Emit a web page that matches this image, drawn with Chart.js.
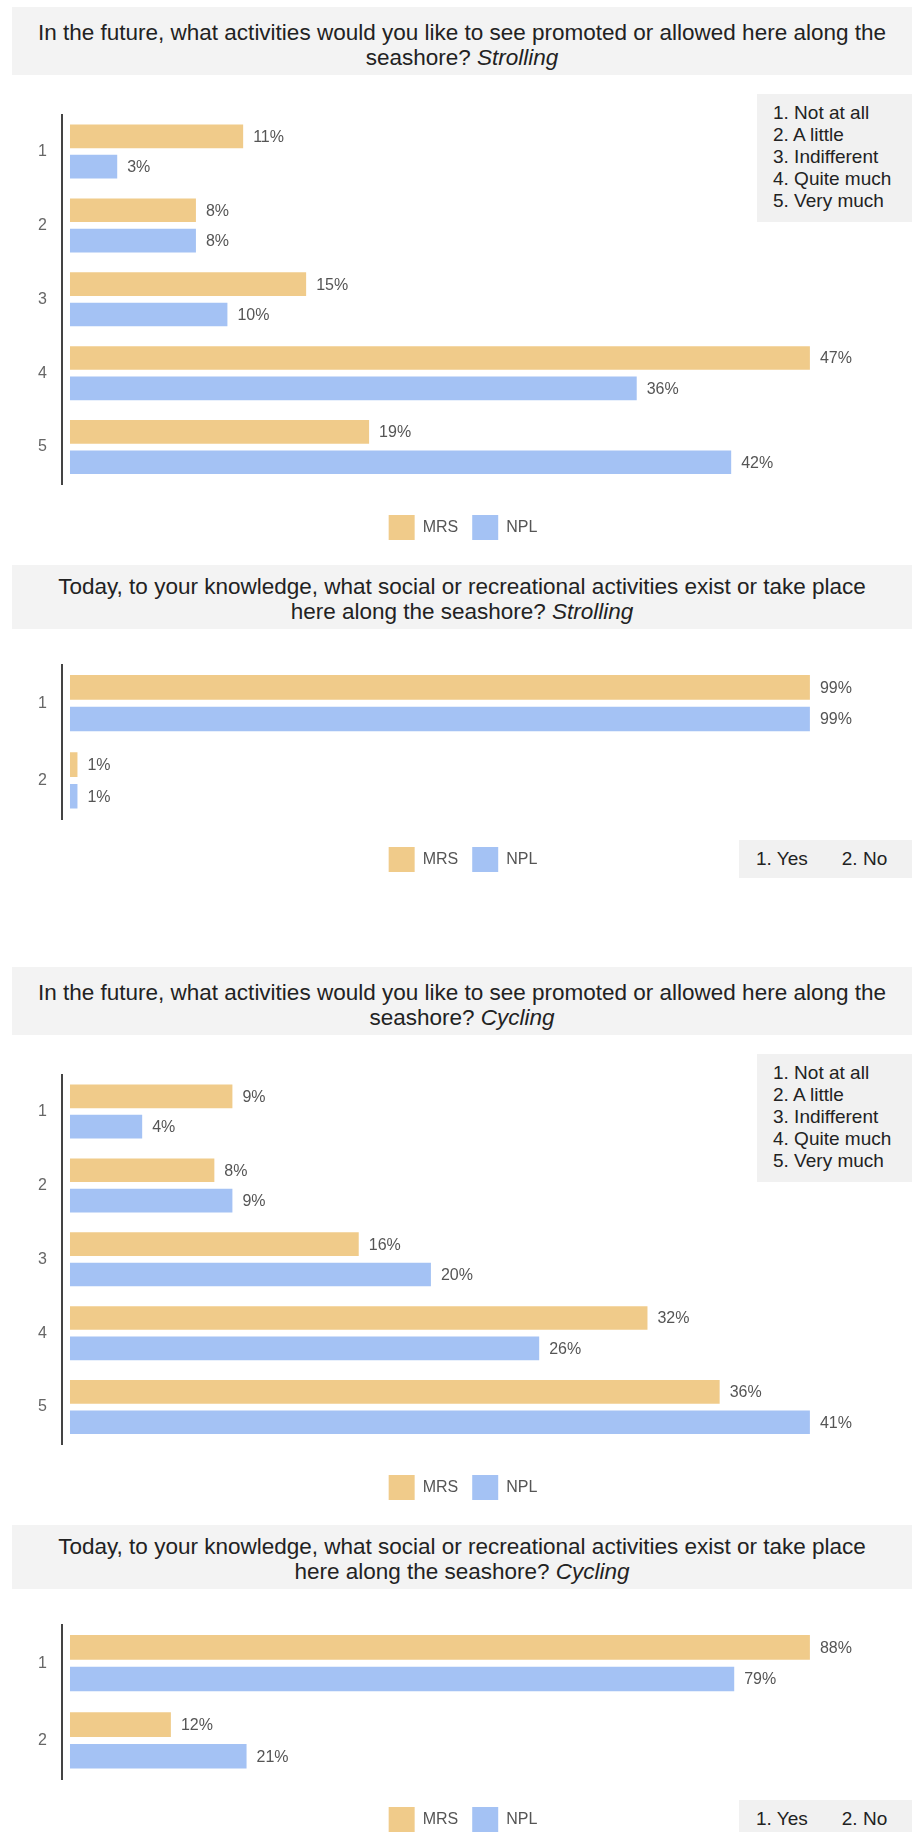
<!DOCTYPE html>
<html>
<head>
<meta charset="utf-8">
<script src="https://cdn.jsdelivr.net/npm/chart.js@4.4.1/dist/chart.umd.min.js"></script>
<style>
    body {
        margin: 0;
        width: 912px;
        height: 1832px;
        overflow: hidden;
        position: relative;
        background: #fff;
        font-family: 'Liberation Sans', Arial, sans-serif;
    }
    .title {
        position: absolute;
        left: 12px;
        width: 900px;
        box-sizing: border-box;
        background: #f3f3f3;
        color: #222;
        font-size: 22.5px;
        line-height: 25px;
        text-align: center;
    }
    .key {
        position: absolute;
        box-sizing: border-box;
        background: #f1f1f1;
        color: #222;
        font-size: 19px;
        line-height: 22px;
    }
    .key.yesno { line-height: 38px; height: 38px; left: 739px; width: 173px; padding-left: 17px; }
    .key.yesno span + span { margin-left: 34px; }
    .key.levels { left: 757px; width: 155px; height: 128px; padding: 8px 0 0 16px; }
    canvas { position: absolute; left: 0; }
</style>
</head>
<body>

<div class="title" style="top:7px;height:68px;padding-top:13px">In the future, what activities would you like to see promoted or allowed here along the<br>seashore? <i>Strolling</i></div>
<canvas id="strollFuture" width="912" height="460" style="top:90px"></canvas>
<div class="key levels" style="top:94px">1. Not at all<br>2. A little<br>3. Indifferent<br>4. Quite much<br>5. Very much</div>

<div class="title" style="top:565px;height:64px;padding-top:9px">Today, to your knowledge, what social or recreational activities exist or take place<br>here along the seashore? <i>Strolling</i></div>
<canvas id="strollToday" width="912" height="242" style="top:640px"></canvas>
<div class="key yesno" style="top:840px"><span>1. Yes</span><span>2. No</span></div>

<div class="title" style="top:967px;height:68px;padding-top:13px">In the future, what activities would you like to see promoted or allowed here along the<br>seashore? <i>Cycling</i></div>
<canvas id="cycleFuture" width="912" height="460" style="top:1050px"></canvas>
<div class="key levels" style="top:1054px">1. Not at all<br>2. A little<br>3. Indifferent<br>4. Quite much<br>5. Very much</div>

<div class="title" style="top:1525px;height:64px;padding-top:9px">Today, to your knowledge, what social or recreational activities exist or take place<br>here along the seashore? <i>Cycling</i></div>
<canvas id="cycleToday" width="912" height="242" style="top:1600px"></canvas>
<div class="key yesno" style="top:1800px"><span>1. Yes</span><span>2. No</span></div>

<script>
// answer levels on the y axis
const LEVELS_5 = ['1', '2', '3', '4', '5'];
const LEVELS_2 = ['1', '2'];

const SERIES = ['MRS', 'NPL'];
const COLORS = ['#F0CB8A', '#A4C2F4'];

// percentages per level
const STROLL_FUTURE_MRS = [11, 8, 15, 47, 19];
const STROLL_FUTURE_NPL = [3, 8, 10, 36, 42];
const STROLL_TODAY_MRS = [99, 1];
const STROLL_TODAY_NPL = [99, 1];
const CYCLE_FUTURE_MRS = [9, 8, 16, 32, 36];
const CYCLE_FUTURE_NPL = [4, 9, 20, 26, 41];
const CYCLE_TODAY_MRS = [88, 12];
const CYCLE_TODAY_NPL = [79, 21];

Chart.defaults.font.family = "'Liberation Sans', Arial, sans-serif";

// value labels at the end of every bar
const percentLabels = {
    id: 'percentLabels',
    afterDatasetsDraw(chart) {
        const ctx = chart.ctx;
        ctx.save();
        ctx.font = "16px 'Liberation Sans', Arial, sans-serif";
        ctx.fillStyle = '#555';
        ctx.textBaseline = 'middle';
        chart.data.datasets.forEach((ds, i) => {
            chart.getDatasetMeta(i).data.forEach((bar, j) => {
                ctx.fillText(ds.data[j] + '%', bar.x + 10, bar.y + 1);
            });
        });
        ctx.restore();
    }
};

function drawChart(id, labels, mrs, npl, gapBelow) {
    const top = Math.max(...mrs, ...npl);
    return new Chart(document.getElementById(id), {
        type: 'bar',
        data: {
            labels: labels,
            datasets: [
                { label: SERIES[0], data: mrs, backgroundColor: COLORS[0] },
                { label: SERIES[1], data: npl, backgroundColor: COLORS[1] }
            ]
        },
        options: {
            indexAxis: 'y',
            responsive: false,
            animation: false,
            categoryPercentage: 0.82,
            barPercentage: 0.78,
            layout: { padding: { top: 18, left: 14, right: 0, bottom: 0 } },
            scales: {
                x: {
                    min: -top * 0.0108,
                    max: top * 1.138,
                    grid: { display: false },
                    border: { display: false },
                    ticks: { display: false },
                    afterFit: (s) => { s.height = gapBelow; }
                },
                y: {
                    grid: { drawOnChartArea: false, drawTicks: false },
                    border: { color: '#444', width: 2 },
                    ticks: { color: '#666', padding: 15, font: { size: 16 } },
                    afterFit: (s) => { s.width = 48; }
                }
            },
            plugins: {
                legend: {
                    position: 'bottom',
                    labels: { boxWidth: 26, boxHeight: 25, padding: 14, color: '#555', font: { size: 16 } }
                },
                tooltip: { enabled: false }
            }
        },
        plugins: [percentLabels]
    });
}

drawChart('strollFuture', LEVELS_5, STROLL_FUTURE_MRS, STROLL_FUTURE_NPL, 17);
drawChart('strollToday', LEVELS_2, STROLL_TODAY_MRS, STROLL_TODAY_NPL, 14);
drawChart('cycleFuture', LEVELS_5, CYCLE_FUTURE_MRS, CYCLE_FUTURE_NPL, 17);
drawChart('cycleToday', LEVELS_2, CYCLE_TODAY_MRS, CYCLE_TODAY_NPL, 14);
</script>
</body>
</html>
